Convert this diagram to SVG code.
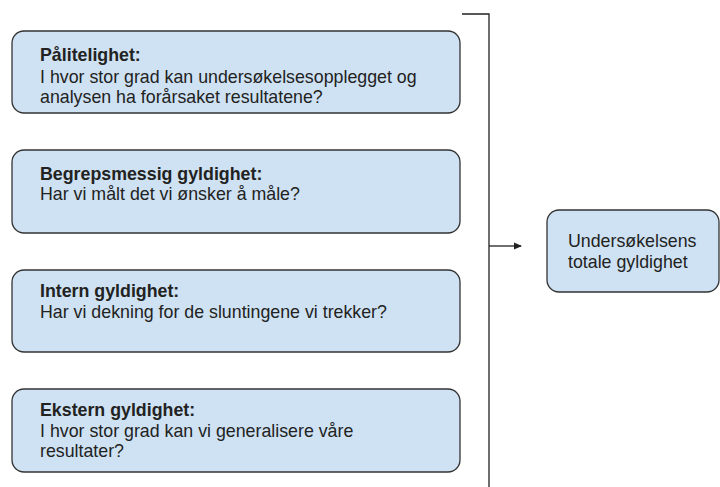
<svg xmlns="http://www.w3.org/2000/svg" width="720" height="487" viewBox="0 0 720 487">
<style>
.box{fill:#cfe2f3;stroke:#333;stroke-width:1.3}
text{font-family:"Liberation Sans",Arial,sans-serif;font-size:17.8px;fill:#222}
.b{font-weight:bold}
.line{fill:none;stroke:#222;stroke-width:1.3}
</style>
<defs>
<marker id="ah" markerWidth="8" markerHeight="8" refX="7" refY="4" orient="auto" markerUnits="userSpaceOnUse">
<path d="M0,0.5 L8,4 L0,7.5 Z" fill="#222"/>
</marker>
</defs>
<rect width="720" height="487" fill="#fff"/>
<g id="connectors">
<path class="line" d="M462,14 H489 V487"/>
<path class="line" d="M489,246 H521" marker-end="url(#ah)"/>
</g>
<g id="n1">
<rect class="box" x="12" y="31" width="448" height="82" rx="12"/>
<text x="40" y="61" class="b">Pålitelighet:</text>
<text x="40" y="83">I hvor stor grad kan undersøkelsesopplegget og</text>
<text x="40" y="103">analysen ha forårsaket resultatene?</text>
</g>
<g id="n2">
<rect class="box" x="12" y="150" width="448" height="83" rx="12"/>
<text x="40" y="180" class="b">Begrepsmessig gyldighet:</text>
<text x="40" y="200">Har vi målt det vi ønsker å måle?</text>
</g>
<g id="n3">
<rect class="box" x="12" y="270" width="448" height="82" rx="12"/>
<text x="40" y="297" class="b">Intern gyldighet:</text>
<text x="40" y="318">Har vi dekning for de sluntingene vi trekker?</text>
</g>
<g id="n4">
<rect class="box" x="12" y="389" width="448" height="83" rx="12"/>
<text x="40" y="416" class="b">Ekstern gyldighet:</text>
<text x="40" y="437">I hvor stor grad kan vi generalisere våre</text>
<text x="40" y="457">resultater?</text>
</g>
<g id="n5">
<rect class="box" x="547" y="210" width="172" height="82" rx="12"/>
<text x="568" y="247">Undersøkelsens</text>
<text x="568" y="268">totale gyldighet</text>
</g>
</svg>
